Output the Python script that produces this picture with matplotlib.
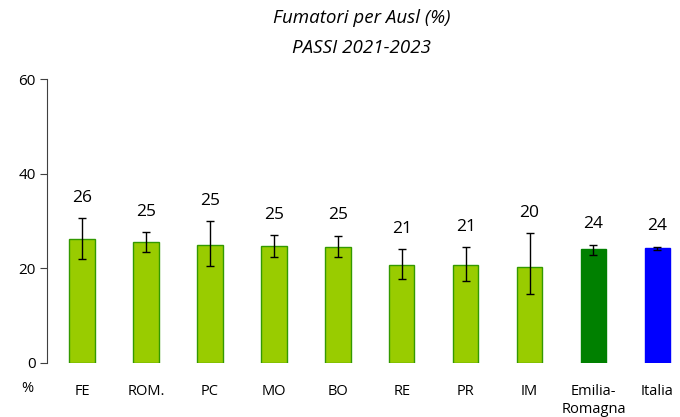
import matplotlib.pyplot as plt

plt.rcParams['font.family'] = ['Open Sans', 'DejaVu Sans']

labels = ["FE", "ROM.", "PC", "MO", "BO", "RE", "PR", "IM", "Emilia-\nRomagna", "Italia"]
values = [26.1, 25.5, 24.9, 24.7, 24.5, 20.6, 20.6, 20.2, 24.0, 24.2]
lower = [22.0, 23.4, 20.5, 22.4, 22.3, 17.8, 17.3, 14.5, 22.9, 23.9]
upper = [30.6, 27.6, 30.0, 27.0, 26.9, 24.0, 24.5, 27.4, 25.0, 24.6]
shown = ["26", "25", "25", "25", "25", "21", "21", "20", "24", "24"]

colors = ["#99CC00"] * 8 + ["#008000", "#0000FF"]
edges = ["#339900"] * 8 + ["#008000", "#0000FF"]


def main():
    fig = plt.figure(figsize=(6.8, 4.17), dpi=100)
    ax = fig.add_axes([0.069, 0.1295, 0.926, 0.681])

    x = list(range(len(labels)))
    err = [[v - lo for v, lo in zip(values, lower)], [up - v for v, up in zip(values, upper)]]
    ax.bar(x, values, width=0.4, color=colors, edgecolor=edges, linewidth=1)
    ax.errorbar(x, values, yerr=err, fmt="none", ecolor="black", elinewidth=1, capsize=3, capthick=1)

    for xi, up, s in zip(x, upper, shown):
        ax.annotate(s, (xi, up), xytext=(0, 9), textcoords="offset points",
                    ha="center", va="bottom", fontsize=12.5)

    ax.set_ylim(0, 60)
    ax.set_xlim(-0.55, 9.3)
    ax.set_yticks([0, 20, 40, 60])
    ax.set_xticks(x)
    ax.set_xticklabels(labels, fontsize=10.5, va="top", linespacing=1.25)
    ax.tick_params(axis="x", length=0, pad=15)
    ax.tick_params(axis="y", labelsize=11, length=5, color="#404040", pad=3)
    for side in ["top", "right", "bottom"]:
        ax.spines[side].set_visible(False)
    ax.spines["left"].set_color("#404040")

    fig.text(27 / 680, 1 - 389 / 417, "%", ha="center", va="center", fontsize=10.5)
    fig.text(362 / 680, 1 - 18 / 417, "Fumatori per Ausl (%)", ha="center", va="center",
             fontsize=13.5, style="italic")
    fig.text(362 / 680, 1 - 48 / 417, "PASSI 2021-2023", ha="center", va="center",
             fontsize=13.5, style="italic")

    fig.savefig("out.png", dpi=100)
    plt.close(fig)


if __name__ == "__main__":
    main()
